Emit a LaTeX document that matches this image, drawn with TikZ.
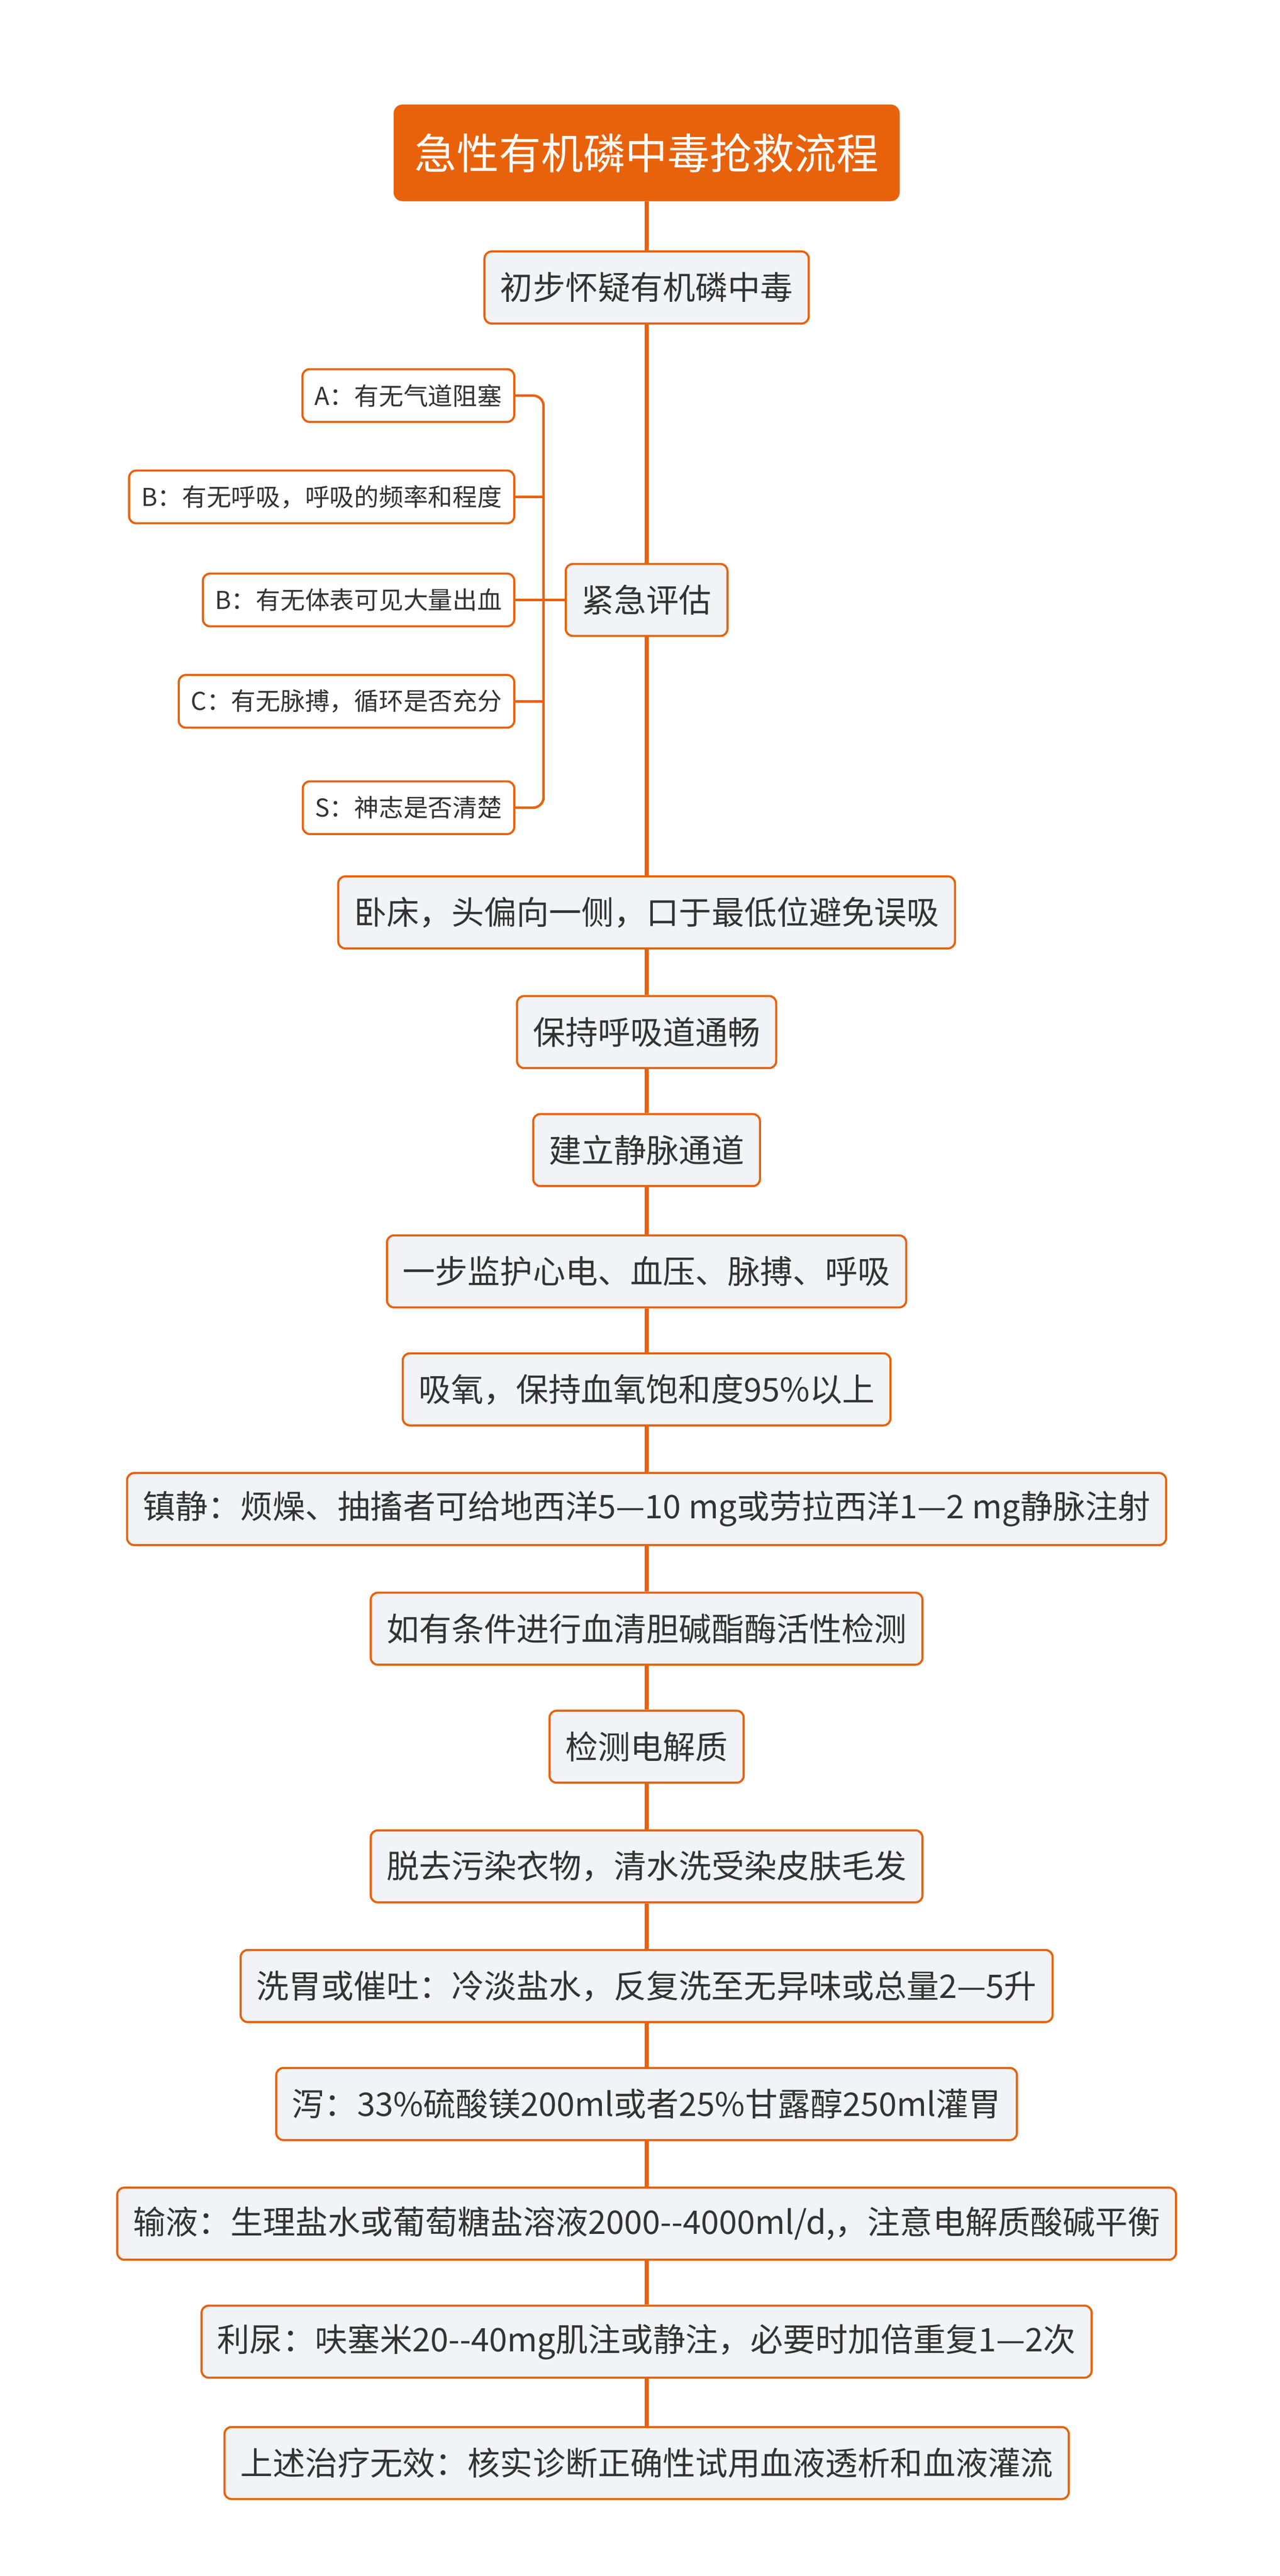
\documentclass[tikz,border=0pt]{standalone}
\usepackage{fontspec}
\setmainfont{Noto Sans CJK SC}
\definecolor{accent}{RGB}{232,98,12}
\definecolor{boxfill}{RGB}{241,243,246}
\definecolor{ink}{RGB}{51,51,51}
\tikzset{
  step box/.style={draw=accent,line width=1.2pt,fill=boxfill,rounded corners=4pt,
    text=ink,font=\fontsize{18.5}{22}\selectfont,minimum height=41pt,inner xsep=9pt},
  sub box/.style={draw=accent,line width=1.2pt,fill=white,rounded corners=4pt,
    text=ink,font=\fontsize{14}{16}\selectfont,minimum height=30pt,inner xsep=7pt,anchor=east},
  link/.style={draw=accent,line width=2.4pt},
  twig/.style={draw=accent,line width=1.4pt,rounded corners=6pt}
}
\begin{document}
\begin{tikzpicture}[x=0.03325cm,y=-0.03325cm]
\useasboundingbox (0,0) rectangle (770,1550);

\node[fill=accent,text=white,rounded corners=5pt,
  minimum height=55pt,inner xsep=12pt,font=\fontsize{24}{28}\selectfont] (title) at (389,92) {急性有机磷中毒抢救流程};

\node[step box] (s1) at (389,173) {初步怀疑有机磷中毒};
\node[step box] (s2) at (389,361) {紧急评估};

% main steps
\foreach \nm/\y/\txt in {
  s3/549/{卧床，头偏向一侧，口于最低位避免误吸},
  s4/621/{保持呼吸道通畅},
  s5/692/{建立静脉通道},
  s6/765/{一步监护心电、血压、脉搏、呼吸},
  s7/836/{吸氧，保持血氧饱和度95\%以上},
  s8/908/{镇静：烦燥、抽搐者可给地西洋5—10 mg或劳拉西洋1—2 mg静脉注射},
  s9/980/{如有条件进行血清胆碱酯酶活性检测},
  s10/1051/{检测电解质},
  s11/1123/{脱去污染衣物，清水洗受染皮肤毛发},
  s12/1195/{洗胃或催吐：冷淡盐水，反复洗至无异味或总量2—5升},
  s13/1266/{泻：33\%硫酸镁200ml或者25\%甘露醇250ml灌胃},
  s14/1338/{输液：生理盐水或葡萄糖盐溶液2000{-}{-}4000ml/d,，注意电解质酸碱平衡},
  s15/1409/{利尿：呋塞米20{-}{-}40mg肌注或静注，必要时加倍重复1—2次},
  s16/1482/{上述治疗无效：核实诊断正确性试用血液透析和血液灌流}}
  \node[step box] (\nm) at (389,\y) {\txt};

% assessment items
\node[sub box] (a1) at (310,238) {A：有无气道阻塞};
\node[sub box] (a2) at (310,299) {B：有无呼吸，呼吸的频率和程度};
\node[sub box] (a3) at (310,361) {B：有无体表可见大量出血};
\node[sub box] (a4) at (310,422) {C：有无脉搏，循环是否充分};
\node[sub box] (a5) at (310,486) {S：神志是否清楚};
\coordinate (fork) at (327,361);

\draw[twig] (a1.east) -- (fork |- a1.east) -- (fork |- a5.east) -- (a5.east);
\foreach \a in {a2,a3,a4} \draw[twig] (\a.east) -- (fork |- \a.east);
\draw[twig] (fork) -- (s2.west);

% spine
\path[link] (title) -- (s1) (s1) -- (s2) (s2) -- (s3);
\foreach \a/\b in {s3/s4,s4/s5,s5/s6,s6/s7,s7/s8,s8/s9,s9/s10,s10/s11,s11/s12,s12/s13,s13/s14,s14/s15,s15/s16}
  \path[link] (\a) -- (\b);
\end{tikzpicture}
\end{document}
